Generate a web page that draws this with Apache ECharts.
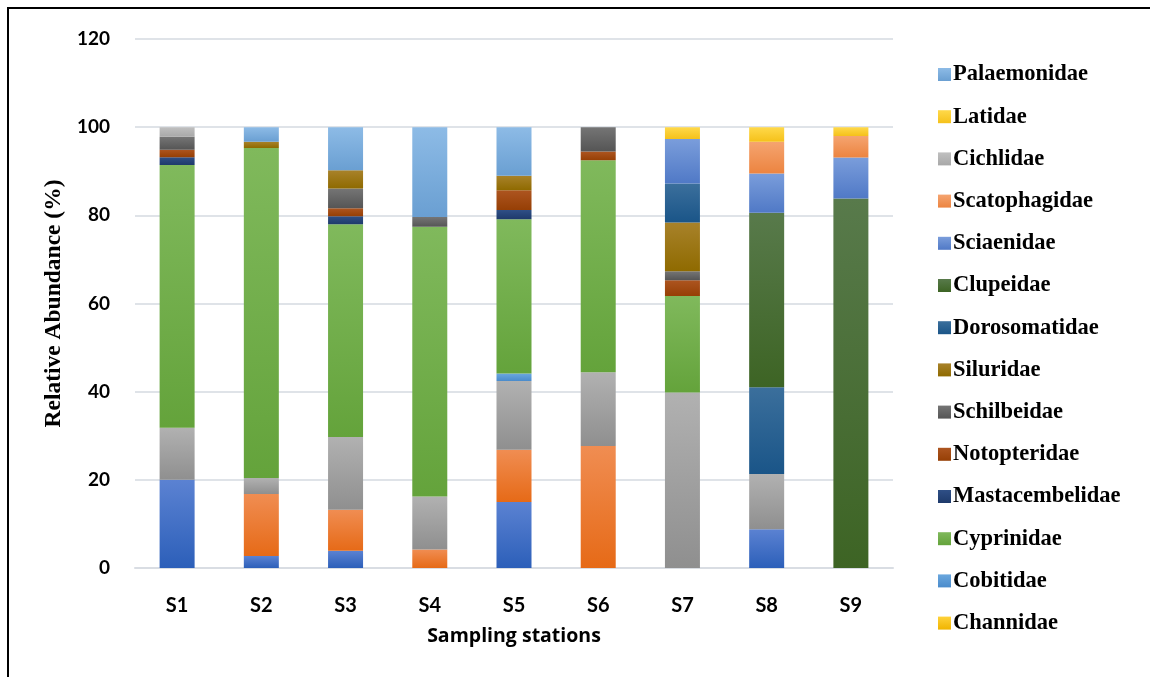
<!DOCTYPE html>
<html>
<head>
<meta charset="utf-8">
<title>Relative abundance of fish families by sampling station</title>
<script src="https://cdn.jsdelivr.net/npm/echarts@6/dist/echarts.min.js"></script>
<style>
  html, body { margin: 0; padding: 0; background: #ffffff; }
  #wrap { position: relative; width: 1150px; height: 677px; overflow: hidden; }
  #frame { position: absolute; left: 7px; top: 7px; width: 1160px; height: 700px;
           border: 2px solid #000; box-sizing: border-box; pointer-events: none; }
  #chart { position: absolute; left: 0; top: 0; width: 1150px; height: 677px; }
</style>
</head>
<body>
<div id="wrap">
  <div id="chart"></div>
  <div id="frame"></div>
</div>
<script>
// Sampling stations along the x axis
const stations = ['S1', 'S2', 'S3', 'S4', 'S5', 'S6', 'S7', 'S8', 'S9'];
const yTicks = [0, 20, 40, 60, 80, 100, 120];

// Relative abundance (%) per family, one value per station (S1..S9)
const familyA       = [20.0, 2.7, 3.9, 0, 15.0, 0, 0, 8.8, 0];
const familyB       = [0, 14.1, 9.3, 4.2, 11.8, 27.7, 0, 0, 0];
const familyC       = [11.8, 3.6, 16.5, 12.0, 15.6, 16.7, 39.8, 12.5, 0];
const channidae     = [0, 0, 0, 0, 0, 0, 0, 0, 0];
const cobitidae     = [0, 0, 0, 0, 1.7, 0, 0, 0, 0];
const cyprinidae    = [59.6, 74.9, 48.3, 61.2, 35.0, 48.1, 21.9, 0, 0];
const mastacembelidae = [1.8, 0, 1.8, 0, 2.1, 0, 0, 0, 0];
const notopteridae  = [1.7, 0, 1.8, 0, 4.5, 2.0, 3.6, 0, 0];
const schilbeidae   = [2.9, 0, 4.5, 2.2, 0, 5.5, 2.0, 0, 0];
const siluridae     = [0, 1.4, 4.1, 0, 3.3, 0, 11.1, 0, 0];
const dorosomatidae = [0, 0, 0, 0, 0, 0, 8.8, 19.7, 0];
const clupeidae     = [0, 0, 0, 0, 0, 0, 0, 39.6, 83.8];
const sciaenidae    = [0, 0, 0, 0, 0, 0, 10.1, 8.9, 9.3];
const scatophagidae = [0, 0, 0, 0, 0, 0, 0, 7.2, 4.9];
const cichlidae     = [2.2, 0, 0, 0, 0, 0, 0, 0, 0];
const latidae       = [0, 0, 0, 0, 0, 0, 2.7, 3.3, 2.0];
const palaemonidae  = [0, 3.3, 9.8, 20.4, 11.0, 0, 0, 0, 0];

// Stack order, bottom to top: [name, values, top colour, bottom colour]
const stackOrder = [
  ['Family A',        familyA,        '#5b82d2', '#2c5fb9'],
  ['Family B',        familyB,        '#f08d52', '#e66a17'],
  ['Family C',        familyC,        '#b1b1b1', '#8f8f8f'],
  ['Channidae',       channidae,      '#ffd23a', '#f0b400'],
  ['Cobitidae',       cobitidae,      '#6aa7de', '#4a8bcb'],
  ['Cyprinidae',      cyprinidae,     '#80b95c', '#64a33b'],
  ['Mastacembelidae', mastacembelidae,'#2f4f86', '#1e3a6b'],
  ['Notopteridae',    notopteridae,   '#ad5520', '#963f05'],
  ['Schilbeidae',     schilbeidae,    '#757575', '#555555'],
  ['Siluridae',       siluridae,      '#a8822a', '#8f6a00'],
  ['Dorosomatidae',   dorosomatidae,  '#3b6f9c', '#1a5588'],
  ['Clupeidae',       clupeidae,      '#587a4b', '#3d6424'],
  ['Sciaenidae',      sciaenidae,     '#7a9ddb', '#5079c6'],
  ['Scatophagidae',   scatophagidae,  '#f5a470', '#ec8440'],
  ['Cichlidae',       cichlidae,      '#c0c0c0', '#a8a8a8'],
  ['Latidae',         latidae,        '#ffd94a', '#f5c11a'],
  ['Palaemonidae',    palaemonidae,   '#8dbbe6', '#6a9fd2']
];

// Legend lists the named families from the top of the stack downwards
const legendNames = ['Palaemonidae', 'Latidae', 'Cichlidae', 'Scatophagidae', 'Sciaenidae',
  'Clupeidae', 'Dorosomatidae', 'Siluridae', 'Schilbeidae', 'Notopteridae',
  'Mastacembelidae', 'Cyprinidae', 'Cobitidae', 'Channidae'];

function grad(top, bottom) {
  return new echarts.graphic.LinearGradient(0, 0, 0, 1, [
    { offset: 0, color: top },
    { offset: 1, color: bottom }
  ]);
}

const series = stackOrder.map(([name, values, top, bottom]) => ({
  name: name,
  type: 'bar',
  stack: 'total',
  barWidth: 35,
  data: values,
  itemStyle: { color: grad(top, bottom) },
  emphasis: { disabled: true }
}));

const sansBold = { fontFamily: 'Lato, "Open Sans", sans-serif', fontWeight: 700, color: '#000' };

const chart = echarts.init(document.getElementById('chart'), null, { renderer: 'canvas' });
chart.setOption({
  animation: false,
  backgroundColor: '#ffffff',
  grid: { left: 135, right: 257, top: 39, bottom: 109, containLabel: false },
  legend: {
    orient: 'vertical',
    left: 933,
    top: 58,
    data: legendNames,
    icon: 'rect',
    itemWidth: 13,
    itemHeight: 13,
    itemGap: 19.2,
    selectedMode: false,
    textStyle: {
      fontFamily: '"Liberation Serif", "Times New Roman", serif',
      fontWeight: 'bold',
      fontSize: 22.5,
      lineHeight: 22,
      color: '#000000',
      padding: [0, 0, 0, -3]
    }
  },
  xAxis: {
    type: 'category',
    data: stations,
    name: 'Sampling stations',
    nameLocation: 'middle',
    nameGap: 58,
    nameTextStyle: { fontFamily: '"Open Sans", Lato, sans-serif', fontWeight: 'bold', fontSize: 19.5, color: '#000' },
    axisLine: { show: true, lineStyle: { color: '#d9dde3', width: 2 } },
    axisTick: { show: false },
    axisLabel: Object.assign({ margin: 28, fontSize: 20 }, sansBold)
  },
  yAxis: {
    type: 'value',
    min: yTicks[0],
    max: yTicks[yTicks.length - 1],
    interval: 20,
    name: 'Relative Abundance (%)',
    nameLocation: 'middle',
    nameGap: 66,
    nameTextStyle: { fontFamily: '"Liberation Serif", "Times New Roman", serif', fontWeight: 'bold', fontSize: 23.5, color: '#000' },
    axisLine: { show: false },
    axisTick: { show: false },
    splitLine: { show: true, lineStyle: { color: '#dfe3e8', width: 2 } },
    axisLabel: Object.assign({ margin: 25, fontSize: 19 }, sansBold)
  },
  series: series
});
</script>
</body>
</html>
